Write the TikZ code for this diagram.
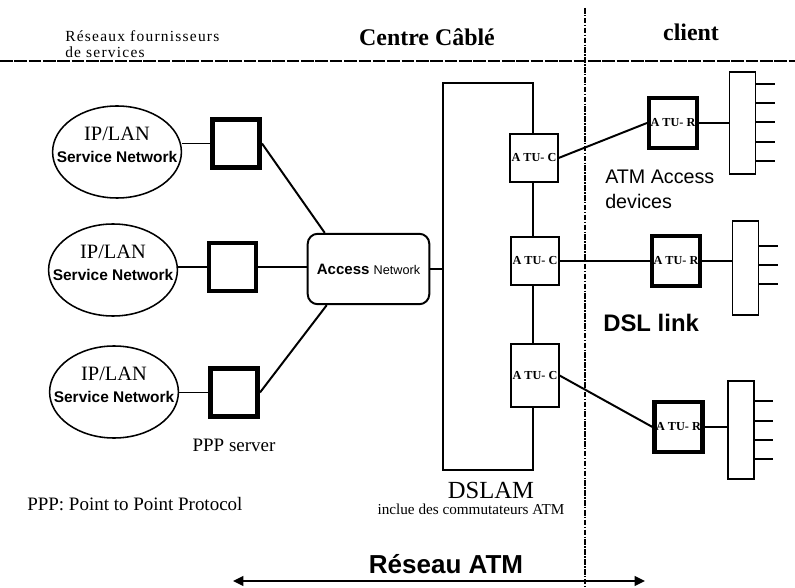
\documentclass[tikz,border=0pt]{standalone}
\usepackage{fontspec}
\setmainfont{Liberation Serif}
\setsansfont{Liberation Sans}
\newfontfamily\spacedserif[LetterSpace=8]{Liberation Serif}
\usetikzlibrary{positioning,arrows.meta,calc,shapes.geometric}

\begin{document}
\begin{tikzpicture}[x=0.25mm,y=-0.25mm,>={Triangle[length=2.6mm,width=2.4mm]},
  net/.style={draw,ellipse,line width=1.1pt,minimum width=32.2mm,minimum height=23mm,inner sep=0pt},
  nettxt/.style={align=center,inner sep=0pt,yshift=1.8mm,font=\fontsize{14.5}{15.6}\selectfont},
  srv/.style={draw,fill=white,line width=3.4pt,minimum width=11.8mm,minimum height=12mm,inner sep=0pt},
  atuc/.style={draw,fill=white,line width=1.1pt,minimum width=11.9mm,minimum height=12.1mm,inner sep=0pt,
    font=\fontsize{8.7}{9}\selectfont\bfseries},
  atur/.style={draw,fill=white,line width=3.2pt,minimum width=11.9mm,minimum height=12.4mm,inner sep=0pt,
    font=\fontsize{8.7}{9}\selectfont\bfseries},
  cpe/.style={draw,line width=0.9pt,minimum width=6.5mm,inner sep=0pt},
  link/.style={line width=1.4pt},
  wire/.style={line width=0.9pt},
  ttl/.style={inner sep=0pt,anchor=base,font=\fontsize{17}{20}\selectfont\bfseries},
  lbl/.style={inner sep=0pt,font=\fontsize{13.5}{16}\selectfont}]
  \useasboundingbox (0,0) rectangle (795,588);
  % ---- zones ----
  \coordinate (sepL) at (0,61);
  \coordinate (sepR) at (795,61);
  \coordinate (colT) at (585,8);
  \coordinate (colB) at (585,588);
  \draw[line width=0.8pt,dash pattern=on 9pt off 1.2pt] (sepL) -- (sepR);
  \draw[line width=0.8pt,dash pattern=on 4pt off 1pt on 1pt off 1pt] (colT) -- (colB);
  \node[inner sep=0pt,anchor=base west,align=left,font=\spacedserif\fontsize{11}{12}\selectfont]
     (fourn) at (65,58) {Réseaux fournisseurs\\de services};
  \node[ttl] (centre) at (427,46) {Centre Câblé};
  \node[ttl] (client) at (691,41) {client};
  % ---- service networks ----
  \node[net] (ip1) at (117,152) {};
  \node[net] (ip2) at (113,270) {};
  \node[net] (ip3) at (114,392) {};
  \foreach \i in {1,2,3}
    \node[nettxt] (ip\i txt) at (ip\i)
      {IP/LAN\\ \sffamily\bfseries\fontsize{11}{15.6}\selectfont Service Network};
  \node[srv] (srv1) at (236,143.5) {};
  \node[srv] (srv2) at (232.5,267) {};
  \node[srv] (srv3) at (234,392.5) {};
  \node[lbl] (srvlbl) at (234,445) {PPP server};
  \node[lbl,anchor=base west] (ppp) at (27,510) {PPP: Point to Point Protocol};
  \foreach \i in {1,2,3}
    \draw[link] (srv\i.west) -- (ip\i.east|-srv\i.west);
  % ---- access network ----
  \node[draw,rounded corners=2.5mm,line width=1.4pt,minimum width=30.4mm,minimum height=17.6mm,
        inner sep=0pt,font=\sffamily] (acc) at (368.5,269)
     {\fontsize{10.7}{12}\selectfont\bfseries Access {\mdseries\fontsize{9}{12}\selectfont Network}};
  \draw[link] (srv1.east) -- ($(acc.north west)+(18,0)$);
  \draw[link] (srv2.east) -- (acc.west|-srv2.east);
  \draw[link] (srv3.east) -- ($(acc.south west)+(20,0)$);
  % ---- DSLAM ----
  \node[draw,line width=1.1pt,minimum width=22.5mm,minimum height=96.75mm,inner sep=0pt]
     (dslam) at (488,276.5) {};
  \node[inner sep=0pt,font=\fontsize{17.5}{20}\selectfont] (dslamlbl) at (491,490) {DSLAM};
  \node[inner sep=0pt,below=1.2mm of dslamlbl,xshift=-5mm,font=\fontsize{10.8}{12}\selectfont]
     (dslamsub) {inclue des commutateurs ATM};
  \draw[wire] (acc.east) -- (acc.east-|dslam.west);
  \node[atuc] (atuc1) at (534,158) {A TU- C};
  \node[atuc] (atuc2) at (535,261) {A TU- C};
  \node[atuc,minimum height=15.8mm] (atuc3) at (535,375.5) {A TU- C};
  % ---- client side ----
  \node[atur] (atur1) at (673,123) {A TU- R};
  \node[atur] (atur2) at (676,261) {A TU- R};
  \node[atur] (atur3) at (678.5,427) {A TU- R};
  \node[cpe,minimum height=25.5mm] (cpe1) at (742.5,123) {};
  \node[cpe,minimum height=23.5mm] (cpe2) at (745.5,268) {};
  \node[cpe,minimum height=24.5mm] (cpe3) at (741,430) {};
  \foreach \dy in {-39,-20,-1,19,38}
    \draw[wire] ($(cpe1.east)+(0,\dy)$) -- ++(19,0);
  \foreach \dy in {-22,-3,16}
    \draw[wire] ($(cpe2.east)+(0,\dy)$) -- ++(19,0);
  \foreach \dy in {-29,-9,10,29}
    \draw[wire] ($(cpe3.east)+(0,\dy)$) -- ++(18,0);
  \draw[link] (atuc1.east) -- (atur1.west);
  \draw[link] (atuc2.east) -- (atur2.west);
  \draw[link] (atuc3.east) -- (atur3.west);
  \foreach \i in {1,2,3}
    \draw[wire] (atur\i.east) -- (atur\i.east-|cpe\i.west);
  \node[inner sep=0pt,anchor=north west,align=left,font=\sffamily\fontsize{14}{17.7}\selectfont]
     (devlbl) at (605,170) {ATM Access\\devices};
  \node[inner sep=0pt,anchor=west,font=\sffamily\bfseries\fontsize{17}{20}\selectfont]
     (dsl) at (603,323) {DSL link};
  % ---- ATM network span ----
  \coordinate (atmL) at (233,581);
  \coordinate (atmR) at (645,581);
  \draw[<->,line width=1.4pt] (atmL) -- (atmR);
  \node[inner sep=0pt,font=\sffamily\bfseries\fontsize{18.5}{20}\selectfont] (atm) at (446,564)
     {Réseau ATM};
\end{tikzpicture}
\end{document}
